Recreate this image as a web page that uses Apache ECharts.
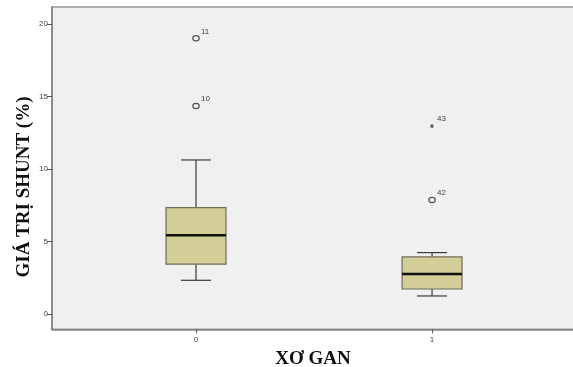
<!DOCTYPE html>
<html>
<head>
<meta charset="utf-8">
<script src="https://cdn.jsdelivr.net/npm/echarts@6/dist/echarts.min.js"></script>
<style>
html,body{margin:0;padding:0;background:#fff;}
#chart{width:573px;height:367px;}
</style>
</head>
<body>
<div id="chart"></div>
<script>
// ---- data ----
var categories = [0, 1];
var categoryLabels = ['0', '1'];
var whiskerLow = [2.32, 1.24];
var q1 = [3.43, 1.72];
var median = [5.43, 2.76];
var q3 = [7.33, 3.93];
var whiskerHigh = [10.62, 4.23];

var outlierGroup = [0, 0, 1, 1];
var outlierValue = [19.01, 14.34, 7.86, 12.97];
var outlierId = ['11', '10', '42', '43'];
var outlierKind = ['circle', 'circle', 'circle', 'star'];

var yTicks = [0, 5, 10, 15, 20];
var xTitle = 'XƠ GAN';
var yTitle = 'GIÁ TRỊ SHUNT (%)';

// ---- build ----
var boxData = categories.map(function (c, i) {
  return [c, whiskerLow[i], q1[i], median[i], q3[i], whiskerHigh[i]];
});
var outData = outlierValue.map(function (v, i) {
  return [categories[outlierGroup[i]], v, outlierId[i], outlierKind[i]];
});

var BOX_W = 0.254, CAP_W = 0.127;

function renderBox(params, api) {
  var x = api.value(0);
  var pLow = api.coord([x, api.value(1)]);
  var pQ1 = api.coord([x, api.value(2)]);
  var pMed = api.coord([x, api.value(3)]);
  var pQ3 = api.coord([x, api.value(4)]);
  var pHigh = api.coord([x, api.value(5)]);
  var bw = api.size([BOX_W, 0])[0];
  var cw = api.size([CAP_W, 0])[0];
  var cx = pMed[0];
  var lineStyle = {stroke: '#3a3a3a', lineWidth: 1.2};
  return {
    type: 'group',
    children: [
      {type: 'line', shape: {x1: cx, y1: pQ3[1], x2: cx, y2: pHigh[1]}, style: lineStyle},
      {type: 'line', shape: {x1: cx, y1: pQ1[1], x2: cx, y2: pLow[1]}, style: lineStyle},
      {type: 'line', shape: {x1: cx - cw / 2, y1: pHigh[1], x2: cx + cw / 2, y2: pHigh[1]}, style: lineStyle},
      {type: 'line', shape: {x1: cx - cw / 2, y1: pLow[1], x2: cx + cw / 2, y2: pLow[1]}, style: lineStyle},
      {type: 'rect', shape: {x: cx - bw / 2, y: pQ3[1], width: bw, height: pQ1[1] - pQ3[1]},
        style: {fill: '#d3cd98', stroke: '#6e6b58', lineWidth: 1.2}},
      {type: 'line', shape: {x1: cx - bw / 2, y1: pMed[1], x2: cx + bw / 2, y2: pMed[1]},
        style: {stroke: '#111', lineWidth: 2.5}}
    ]
  };
}

function renderOutlier(params, api) {
  var p = api.coord([api.value(0), api.value(1)]);
  var kind = outData[params.dataIndex][3];
  var id = outData[params.dataIndex][2];
  var children = [];
  if (kind === 'circle') {
    children.push({type: 'ellipse', shape: {cx: p[0], cy: p[1], rx: 3.2, ry: 2.6},
      style: {fill: 'none', stroke: '#555', lineWidth: 1.2}});
  } else {
    children.push({type: 'text', style: {text: '*', x: p[0], y: p[1] + 3, fill: '#444',
      font: 'bold 10px "Liberation Sans", Arial', align: 'center', verticalAlign: 'middle'}});
  }
  children.push({type: 'text', style: {text: id, x: p[0] + 5, y: p[1] - 7, fill: '#444',
    font: '8px "Liberation Sans", Arial', align: 'left', verticalAlign: 'middle'}});
  return {type: 'group', children: children};
}

var chart = echarts.init(document.getElementById('chart'), null, {renderer: 'canvas'});
chart.setOption({
  animation: false,
  backgroundColor: '#ffffff',
  grid: {left: 52, top: 7, right: -8, bottom: 37.7, show: true, containLabel: false,
    outerBoundsMode: 'none',
    backgroundColor: '#f0f0f0', borderColor: '#9a9a9a', borderWidth: 1.5},
  graphic: [{
    type: 'text', x: 24, y: 187, rotation: Math.PI / 2,
    style: {text: yTitle, fill: '#111', align: 'center', verticalAlign: 'middle',
      font: 'bold 19px "Liberation Serif", "Times New Roman", serif'}
  }, {
    type: 'text', x: 313, y: 359,
    style: {text: xTitle, fill: '#111', align: 'center', verticalAlign: 'middle',
      font: 'bold 19px "Liberation Serif", "Times New Roman", serif'}
  }],
  xAxis: {
    type: 'value', min: -0.61, max: 1.631,
    splitLine: {show: false},
    axisLine: {show: true, onZero: false, lineStyle: {color: '#808080', width: 1.5}},
    axisTick: {show: true, length: 4, lineStyle: {color: '#555'}, customValues: categories},
    axisLabel: {color: '#444', fontSize: 8, fontFamily: '"Liberation Sans", Arial', margin: 6,
      customValues: categories,
      formatter: function (v) { return categoryLabels[categories.indexOf(v)]; }}
  },
  yAxis: {
    type: 'value', min: -1.06, max: 21.17,
    splitLine: {show: false},
    axisLine: {show: true, onZero: false, lineStyle: {color: '#808080', width: 1.5}},
    axisTick: {show: true, length: 5, lineStyle: {color: '#555'}, customValues: yTicks},
    axisLabel: {color: '#444', fontSize: 8, fontFamily: '"Liberation Sans", Arial', margin: 4,
      customValues: yTicks}
  },
  series: [
    {type: 'custom', renderItem: renderBox, data: boxData, encode: {x: 0, y: [1, 2, 3, 4, 5]}},
    {type: 'custom', renderItem: renderOutlier, data: outData, encode: {x: 0, y: 1}}
  ]
});
</script>
</body>
</html>
